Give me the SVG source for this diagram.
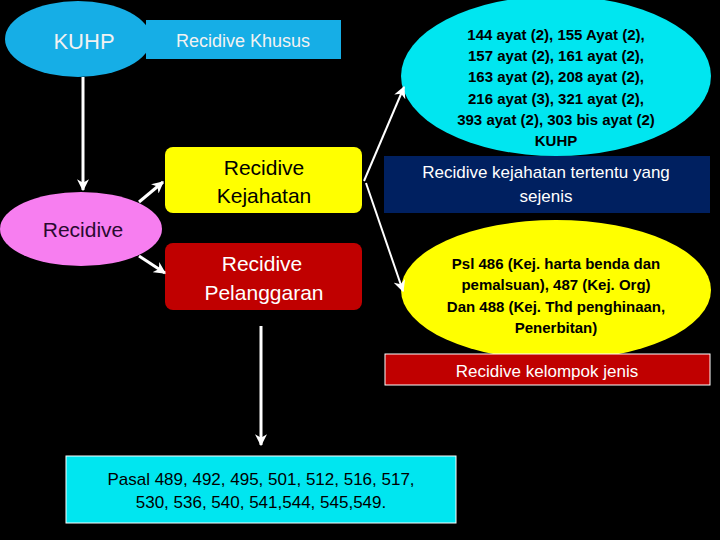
<svg xmlns="http://www.w3.org/2000/svg" width="720" height="540" viewBox="0 0 720 540">
<style>
text{font-family:"Liberation Sans",Arial,sans-serif;text-anchor:middle}
.b{font-weight:bold}
.c{stroke:#fff;stroke-width:3;fill:none;marker-end:url(#ah)}
.t{stroke:#fff;stroke-width:2;fill:none;marker-end:url(#ah2)}
</style>
<defs>
<marker id="ah" viewBox="0 0 10 10" refX="9" refY="5" markerWidth="4" markerHeight="4" orient="auto"><path d="M0,0 L10,5 L0,10 L3,5 z" fill="#fff"/></marker>
<marker id="ah2" viewBox="0 0 10 10" refX="9" refY="5" markerWidth="6" markerHeight="6" orient="auto"><path d="M0,0 L10,5 L0,10 L3,5 z" fill="#fff"/></marker>
</defs>
<rect width="720" height="540" fill="#000"/>
<g id="kuhp"><ellipse cx="78" cy="39" rx="73" ry="38" fill="#16aee6"/><text x="84" y="49" font-size="22" fill="#f2f2f2">KUHP</text></g>
<g id="khusus"><rect x="146" y="20" width="195" height="39" fill="#16aee6"/><text x="243" y="47" font-size="18" fill="#f2f2f2">Recidive Khusus</text></g>
<g id="recidive"><ellipse cx="81" cy="229" rx="81" ry="37" fill="#f77ef0"/><text x="83" y="237" font-size="21" fill="#2a0a30">Recidive</text></g>
<g id="kejahatan"><rect x="165" y="147" width="197" height="66" rx="8" fill="#ffff00"/><text x="264" y="175" font-size="21" fill="#000">Recidive</text><text x="264" y="203" font-size="21" fill="#000">Kejahatan</text></g>
<g id="pelanggaran"><rect x="165" y="243" width="197" height="67" rx="8" fill="#c00000"/><text x="262" y="271" font-size="21" fill="#fff">Recidive</text><text x="264" y="300" font-size="21" fill="#fff">Pelanggaran</text></g>
<g id="pasal-cyan"><ellipse cx="556" cy="76" rx="155" ry="80" fill="#00e6f0"/>
<g class="b" font-size="15" fill="#000"><text x="556" y="40">144 ayat (2), 155 Ayat (2),</text><text x="556" y="61">157 ayat (2), 161 ayat (2),</text><text x="556" y="82">163 ayat (2), 208 ayat (2),</text><text x="556" y="104">216 ayat (3), 321 ayat (2),</text><text x="556" y="125">393 ayat (2), 303 bis ayat (2)</text><text x="556" y="146">KUHP</text></g></g>
<g id="sejenis"><rect x="384" y="156" width="326" height="57" fill="#002060"/><text x="546" y="178" font-size="17" fill="#fff">Recidive kejahatan tertentu yang</text><text x="546" y="202" font-size="17" fill="#fff">sejenis</text></g>
<g id="pasal-yellow"><ellipse cx="556" cy="290" rx="155" ry="70" fill="#ffff00"/>
<g class="b" font-size="15" fill="#000"><text x="556" y="269">Psl 486 (Kej. harta benda dan</text><text x="556" y="290">pemalsuan), 487 (Kej. Org)</text><text x="556" y="312">Dan 488 (Kej. Thd penghinaan,</text><text x="556" y="333">Penerbitan)</text></g></g>
<g id="kelompok"><rect x="385" y="354" width="325" height="31" fill="#c00000" stroke="#fff" stroke-width="1"/><text x="547" y="377" font-size="17" fill="#fff">Recidive kelompok jenis</text></g>
<g id="pasal-bottom"><rect x="66" y="456" width="390" height="67" fill="#00e6f0" stroke="#fff" stroke-width="1"/><text x="261" y="485" font-size="17" fill="#000">Pasal 489, 492, 495, 501, 512, 516, 517,</text><text x="261" y="508" font-size="17" fill="#000">530, 536, 540, 541,544, 545,549.</text></g>
<g id="connectors">
<path class="c" d="M83,77 L83,190"/>
<path class="c" d="M139,202 L163,182"/>
<path class="c" d="M139,256 L165,273"/>
<path class="t" d="M364,181 L404,87"/>
<path class="t" d="M366,183 L403,291"/>
<path class="c" d="M261,326 L261,445"/>
</g>
</svg>
